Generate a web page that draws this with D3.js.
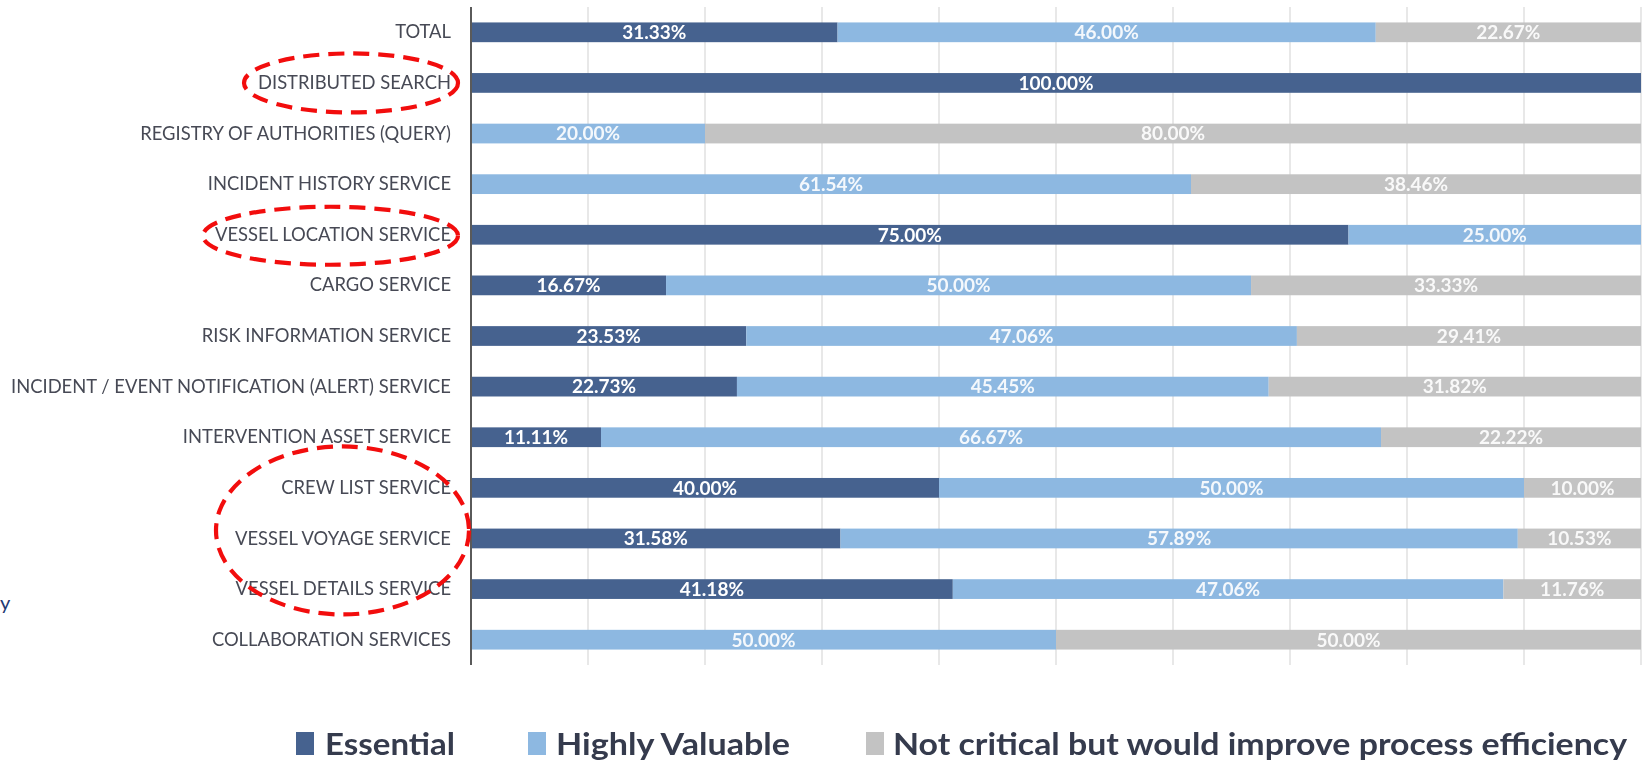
<!DOCTYPE html>
<html>
<head>
<meta charset="utf-8">
<script src="https://cdn.jsdelivr.net/npm/d3@7"></script>
<style>
  html, body { margin: 0; padding: 0; background: #fff; }
  svg { display: block; }
</style>
</head>
<body>
<svg id="chart" width="1651" height="763"></svg>
<script>
const categories = [
  "TOTAL",
  "DISTRIBUTED SEARCH",
  "REGISTRY OF AUTHORITIES (QUERY)",
  "INCIDENT HISTORY SERVICE",
  "VESSEL LOCATION SERVICE",
  "CARGO SERVICE",
  "RISK INFORMATION SERVICE",
  "INCIDENT / EVENT NOTIFICATION (ALERT) SERVICE",
  "INTERVENTION ASSET SERVICE",
  "CREW LIST SERVICE",
  "VESSEL VOYAGE SERVICE",
  "VESSEL DETAILS SERVICE",
  "COLLABORATION SERVICES"
];
const essential = [31.33, 100, 0, 0, 75, 16.67, 23.53, 22.73, 11.11, 40, 31.58, 41.18, 0];
const highlyValuable = [46.00, 0, 20, 61.54, 25, 50, 47.06, 45.45, 66.67, 50, 57.89, 47.06, 50];
const notCritical = [22.67, 0, 80, 38.46, 0, 33.33, 29.41, 31.82, 22.22, 10, 10.53, 11.76, 50];
const seriesNames = ["Essential", "Highly Valuable", "Not critical but would improve process efficiency"];
const xTicks = [0, 10, 20, 30, 40, 50, 60, 70, 80, 90, 100];
const highlighted = [["DISTRIBUTED SEARCH"], ["VESSEL LOCATION SERVICE"], ["CREW LIST SERVICE", "VESSEL VOYAGE SERVICE", "VESSEL DETAILS SERVICE"]];

const colors = ["#46628f", "#8db8e1", "#c3c3c3"];
const keys = ["e", "h", "n"];
const table = categories.map((c, i) => ({cat: c, e: essential[i], h: highlyValuable[i], n: notCritical[i]}));

const svg = d3.select("#chart");
const defs = svg.append("defs");
defs.append("filter").attr("id", "soft").attr("x", "-5%").attr("y", "-20%").attr("width", "110%").attr("height", "140%")
  .append("feGaussianBlur").attr("stdDeviation", 0.55);

const x = d3.scaleLinear().domain([0, 100]).range([471, 1641]);
const y = d3.scaleBand().domain(categories).range([7, 665]).paddingInner(0.61).paddingOuter(0.305);

// gridlines
svg.append("g").selectAll("line").data(xTicks.slice(1)).join("line")
  .attr("x1", d => x(d)).attr("x2", d => x(d))
  .attr("y1", 7).attr("y2", 665)
  .attr("stroke", "#d9d9d9").attr("stroke-width", 1.2);

// bars
const stacked = d3.stack().keys(keys)(table);
const gBars = svg.append("g");
stacked.forEach((layer, li) => {
  gBars.append("g").selectAll("rect").data(layer).join("rect")
    .attr("x", d => x(d[0]))
    .attr("y", d => y(d.data.cat))
    .attr("width", d => Math.max(0, x(d[1]) - x(d[0])))
    .attr("height", y.bandwidth())
    .attr("fill", colors[li]);
});

// value labels
const gLab = svg.append("g").attr("filter", "url(#soft)");
stacked.forEach((layer, li) => {
  gLab.append("g").selectAll("text").data(layer.filter(d => d[1] - d[0] > 0)).join("text")
    .attr("x", d => x((d[0] + d[1]) / 2))
    .attr("y", d => y(d.data.cat) + y.bandwidth() / 2)
    .attr("dy", "0.36em")
    .attr("text-anchor", "middle")
    .attr("font-family", "Lato, 'Open Sans', sans-serif")
    .attr("font-weight", 700)
    .attr("font-size", 19)
    .attr("fill", "#ffffff")
    .attr("fill-opacity", li === 0 ? 1 : 0.9)
    .text(d => (d[1] - d[0]).toFixed(2) + "%");
});

// y axis (category labels)
const yAxis = d3.axisLeft(y).tickSize(0).tickPadding(20);
const gy = svg.append("g").attr("transform", "translate(471,0)").call(yAxis);
gy.select(".domain").remove();
gy.selectAll("text")
  .attr("font-family", "Lato, 'Open Sans', sans-serif")
  .attr("font-size", 18.5)
  .attr("fill", "#474a55")
  .attr("dy", "0.33em")
  .attr("filter", "url(#soft)");
// compress labels uniformly to mimic the narrow original font
const longest = gy.selectAll("text").nodes().reduce((m, n) => Math.max(m, n.getComputedTextLength()), 0);
const factor = 440 / longest;
gy.selectAll("text").each(function () {
  const w = this.getComputedTextLength();
  d3.select(this).attr("textLength", w * factor).attr("lengthAdjust", "spacingAndGlyphs");
});

// left axis line
svg.append("line").attr("x1", 471).attr("x2", 471).attr("y1", 7).attr("y2", 665)
  .attr("stroke", "#5a5a5a").attr("stroke-width", 2);

// legend
const legendItems = [
  {name: seriesNames[0], sx: 296, tx: 325, tw: 130},
  {name: seriesNames[1], sx: 528, tx: 556, tw: 234},
  {name: seriesNames[2], sx: 866, tx: 893, tw: 734}
];
const gLeg = svg.append("g");
legendItems.forEach((it, i) => {
  gLeg.append("rect").attr("x", it.sx).attr("y", 732).attr("width", 18).attr("height", 23).attr("fill", colors[i]);
  gLeg.append("text").attr("x", it.tx).attr("y", 755)
    .attr("font-family", "Lato, 'Open Sans', sans-serif")
    .attr("font-weight", 700).attr("font-size", 31)
    .attr("fill", "#363b4d")
    .attr("textLength", it.tw).attr("lengthAdjust", "spacingAndGlyphs")
    .attr("filter", "url(#soft)")
    .text(it.name);
});

// red dashed ellipses highlighting categories
const ellipseSpecs = [
  {cx: 351, rx: 107, ry: 29.5, dy: 0},
  {cx: 330.5, rx: 127.5, ry: 29, dy: 1},
  {cx: 342.5, rx: 126.5, ry: 84, dy: -8}
];
highlighted.forEach((group, i) => {
  const first = y(group[0]) + y.bandwidth() / 2;
  const last = y(group[group.length - 1]) + y.bandwidth() / 2;
  const cy = (first + last) / 2 + ellipseSpecs[i].dy;
  svg.append("ellipse")
    .attr("cx", ellipseSpecs[i].cx).attr("cy", cy)
    .attr("rx", ellipseSpecs[i].rx).attr("ry", ellipseSpecs[i].ry)
    .attr("fill", "none").attr("stroke", "#f20d0d").attr("stroke-width", 4.2)
    .attr("stroke-dasharray", "16 9");
});

// fragment of slide text at the left edge
svg.append("text").attr("x", 0).attr("y", 610)
  .attr("font-family", "Lato, sans-serif").attr("font-size", 20).attr("fill", "#1f3a73")
  .text("y");
</script>
</body>
</html>
